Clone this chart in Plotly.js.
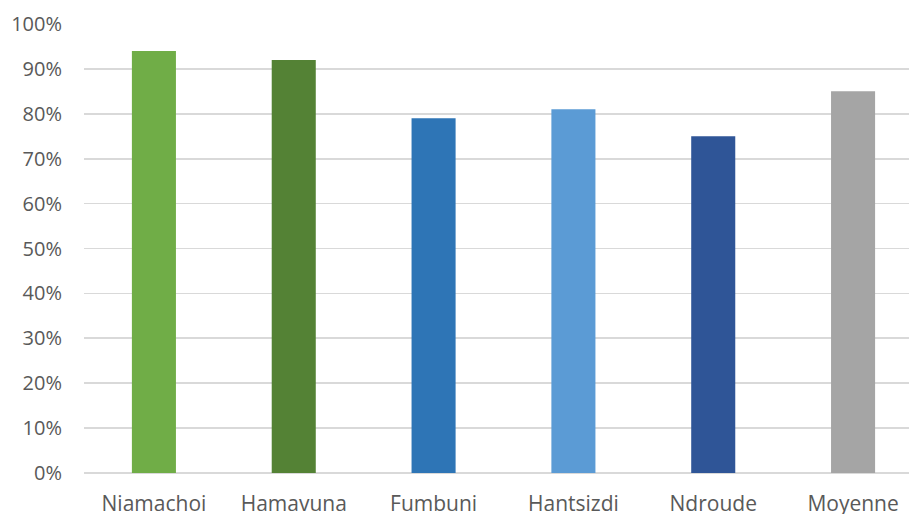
<!DOCTYPE html>
<html><head><meta charset="utf-8">
<script src="https://cdn.plot.ly/plotly-3.0.1.min.js"></script>
<style>html,body{margin:0;padding:0;background:#fff}#c{width:909px;height:514px}</style>
</head><body><div id="c"></div>
<script>
const categories = ["Niamachoi", "Hamavuna", "Fumbuni", "Hantsizdi", "Ndroude", "Moyenne"];
const values = [0.94, 0.92, 0.79, 0.81, 0.75, 0.85];
const barColors = ["#70AD47", "#548235", "#2E75B6", "#5B9BD5", "#2F5597", "#A5A5A5"];
const yTicks = [0, 0.1, 0.2, 0.3, 0.4, 0.5, 0.6, 0.7, 0.8, 0.9, 1.0];
const yTickText = ["0%", "10%", "20%", "30%", "40%", "50%", "60%", "70%", "80%", "90%", "100%"];

Plotly.newPlot("c", [{
  type: "bar", x: categories, y: values,
  marker: {color: barColors}, width: 0.315, hoverinfo: "none"
}], {
  width: 909, height: 514,
  margin: {l: 84, r: 0, t: 24, b: 41},
  paper_bgcolor: "#fff", plot_bgcolor: "#fff",
  font: {family: "Open Sans, Liberation Sans, sans-serif", color: "#595959", size: 20},
  xaxis: {type: "category", range: [-0.5, 5.4], showgrid: false, showline: false, zeroline: false,
          ticks: "", tickfont: {size: 21, color: "#595959"}, ticklabelstandoff: 16},
  yaxis: {range: [0, 1.0], tickvals: yTicks, ticktext: yTickText, showgrid: true, gridcolor: "#D9D9D9",
          gridwidth: 1.6, zeroline: true, zerolinecolor: "#D9D9D9", zerolinewidth: 1.6,
          ticks: "", ticklabelstandoff: 21, tickfont: {size: 20, color: "#595959"}, fixedrange: true},
  showlegend: false, bargap: 0.685
}, {displayModeBar: false, staticPlot: true});
</script></body></html>
